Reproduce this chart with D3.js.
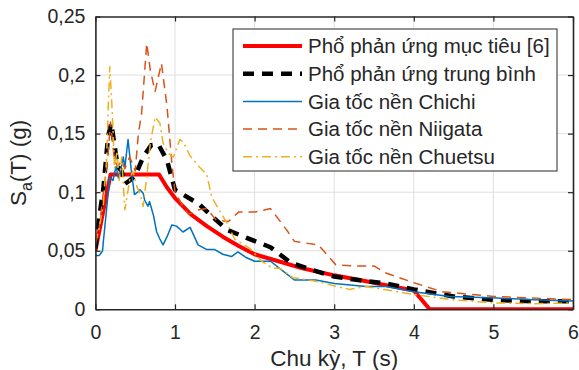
<!DOCTYPE html>
<html lang="vi">
    <head>
        <meta charset="utf-8">
        <title>Pho phan ung</title>
        <script type="text/javascript" src="https://d3js.org/d3.v7.min.js"></script>
        <style type="text/css">
          body { margin: 0; background: #fff; }
          text { font-family: "Liberation Sans", Arial, sans-serif; fill: #262626; }
        </style>
    </head>
    <body>
        <script type="text/javascript">
        var w = 579;
        var h = 370;
        var margin = {top: 16.5, right: 6, bottom: 60.7, left: 95.4};

        // tick values / labels
        var xTicks = [0, 1, 2, 3, 4, 5, 6];
        var yTicks = [0, 0.05, 0.1, 0.15, 0.2, 0.25];
        var yTickLabels = ["0", "0,05", "0,1", "0,15", "0,2", "0,25"];

        // [T (s), Sa (g)]
        var targetData = [[0, 0.05], [0.19, 0.115], [0.8, 0.115], [0.9, 0.104], [1.0, 0.095], [1.2, 0.081],
            [1.4, 0.071], [1.6, 0.062], [1.8, 0.054], [2.0, 0.047], [2.3, 0.041], [2.6, 0.035], [3.0, 0.029],
            [3.4, 0.024], [3.7, 0.02], [4.0, 0.016], [4.2, 0], [6.0, 0]];

        var meanData = [[0, 0.052], [0.03, 0.07], [0.1, 0.103], [0.16, 0.148], [0.2, 0.159], [0.24, 0.14],
            [0.28, 0.122], [0.33, 0.118], [0.37, 0.107], [0.43, 0.11], [0.5, 0.114], [0.6, 0.13], [0.7, 0.14],
            [0.79, 0.141], [0.9, 0.127], [1.0, 0.102], [1.1, 0.098], [1.2, 0.094], [1.3, 0.09], [1.44, 0.081],
            [1.65, 0.068], [1.9, 0.061], [2.2, 0.053], [2.45, 0.04], [2.7, 0.034], [3.0, 0.028], [3.3, 0.025],
            [3.65, 0.022], [4.0, 0.017], [4.5, 0.011], [5.0, 0.008], [5.5, 0.0068], [6.0, 0.0068]];

        var chichiData = [[0, 0.046], [0.05, 0.046], [0.09, 0.05], [0.1, 0.058], [0.14, 0.085], [0.18, 0.113],
            [0.22, 0.11], [0.26, 0.122], [0.29, 0.112], [0.31, 0.116], [0.35, 0.13], [0.37, 0.121], [0.41, 0.145],
            [0.45, 0.119], [0.49, 0.098], [0.53, 0.1], [0.56, 0.102], [0.6, 0.099], [0.62, 0.093], [0.66, 0.088],
            [0.68, 0.092], [0.73, 0.08], [0.77, 0.066], [0.81, 0.06], [0.85, 0.055], [0.9, 0.062], [0.96, 0.072],
            [1.02, 0.071], [1.1, 0.066], [1.19, 0.07], [1.29, 0.055], [1.4, 0.051], [1.5, 0.051], [1.6, 0.047],
            [1.71, 0.045], [1.79, 0.049], [1.9, 0.044], [2.0, 0.041], [2.2, 0.041], [2.35, 0.033], [2.5, 0.025],
            [2.77, 0.025], [3.0, 0.022], [3.4, 0.0195], [3.65, 0.0195], [4.0, 0.015], [4.45, 0.011],
            [5.05, 0.0096], [5.5, 0.0082], [6.0, 0.007]];

        var niigataData = [[0, 0.055], [0.05, 0.07], [0.1, 0.1], [0.14, 0.12], [0.16, 0.133], [0.19, 0.16],
            [0.22, 0.14], [0.24, 0.127], [0.28, 0.122], [0.33, 0.127], [0.37, 0.12], [0.43, 0.13], [0.47, 0.124],
            [0.5, 0.118], [0.54, 0.15], [0.58, 0.167], [0.645, 0.227], [0.69, 0.204], [0.75, 0.186], [0.83, 0.21],
            [0.9, 0.173], [0.96, 0.125], [1.0, 0.1], [1.1, 0.088], [1.17, 0.081], [1.3, 0.085], [1.4, 0.086],
            [1.52, 0.076], [1.67, 0.075], [1.8, 0.083], [2.0, 0.083], [2.2, 0.086], [2.4, 0.068], [2.5, 0.058],
            [2.8, 0.055], [3.02, 0.038], [3.27, 0.037], [3.5, 0.037], [3.65, 0.031], [4.03, 0.022], [4.36, 0.015],
            [5.0, 0.011], [5.5, 0.0096], [6.0, 0.0082]];

        var chuetsuData = [[0, 0.057], [0.05, 0.07], [0.1, 0.09], [0.14, 0.127], [0.16, 0.17], [0.18, 0.207],
            [0.2, 0.184], [0.22, 0.156], [0.24, 0.12], [0.27, 0.135], [0.3, 0.11], [0.33, 0.13], [0.37, 0.085],
            [0.43, 0.11], [0.47, 0.118], [0.52, 0.105], [0.56, 0.099], [0.6, 0.088], [0.64, 0.11], [0.69, 0.142],
            [0.75, 0.164], [0.81, 0.159], [0.85, 0.142], [0.92, 0.133], [0.98, 0.13], [1.06, 0.145], [1.1, 0.143],
            [1.19, 0.131], [1.3, 0.122], [1.4, 0.115], [1.46, 0.096], [1.52, 0.089], [1.65, 0.074], [1.75, 0.06],
            [1.94, 0.052], [2.09, 0.041], [2.23, 0.035], [2.32, 0.035], [2.48, 0.027], [2.77, 0.024], [3.0, 0.02],
            [3.19, 0.017], [3.4, 0.0195], [3.65, 0.0167], [4.03, 0.0124], [4.48, 0.0082], [5.0, 0.0055],
            [5.5, 0.0048], [6.0, 0.0054]];

        var seriesNames = ["Phổ phản ứng mục tiêu [6]", "Phổ phản ứng trung bình", "Gia tốc nền Chichi",
            "Gia tốc nền Niigata", "Gia tốc nền Chuetsu"];

        var series = [
          {data: targetData,  color: "#FF0000", width: 4,   dash: null},
          {data: meanData,    color: "#000000", width: 4.5, dash: "11,8"},
          {data: chichiData,  color: "#0072BD", width: 1.5, dash: null},
          {data: niigataData, color: "#D95319", width: 1.5, dash: "9,6"},
          {data: chuetsuData, color: "#EDB120", width: 1.5, dash: "9,4,2,4"}
        ];

        var pw = w - margin.left - margin.right;
        var ph = h - margin.top - margin.bottom;

        var svg = d3.select("body").append("svg")
                    .attr("width", w)
                    .attr("height", h);

        var g = svg.append("g")
                   .attr("transform", "translate(" + margin.left + "," + margin.top + ")");

        var x = d3.scaleLinear().domain([0, 6]).range([0, pw]);
        var y = d3.scaleLinear().domain([0, 0.25]).range([ph, 0]);

        g.append("clipPath").attr("id", "clip")
          .append("rect").attr("width", pw).attr("height", ph);

        // grid
        g.selectAll(".gx")
          .data(xTicks.slice(1, -1))
          .enter().append("line")
            .attr("x1", function(d){ return x(d); })
            .attr("x2", function(d){ return x(d); })
            .attr("y1", 0).attr("y2", ph)
            .attr("stroke", "#dfdfdf").attr("stroke-width", 1);

        g.selectAll(".gy")
          .data(yTicks.slice(1, -1))
          .enter().append("line")
            .attr("y1", function(d){ return y(d); })
            .attr("y2", function(d){ return y(d); })
            .attr("x1", 0).attr("x2", pw)
            .attr("stroke", "#dfdfdf").attr("stroke-width", 1);

        var line = d3.line()
            .x(function(d) { return x(d[0]); })
            .y(function(d) { return y(d[1]); });

        g.append("g").attr("clip-path", "url(#clip)")
          .selectAll("path")
          .data(series)
          .enter().append("path")
            .attr("fill", "none")
            .attr("stroke", function(d){ return d.color; })
            .attr("stroke-width", function(d){ return d.width; })
            .attr("stroke-dasharray", function(d){ return d.dash; })
            .attr("stroke-linejoin", "round")
            .attr("d", function(d){ return line(d.data); });

        // axes, ticks pointing inward
        var styleAxis = function(sel){
            sel.select(".domain").attr("stroke", "#262626").attr("stroke-width", 1.6);
            sel.selectAll(".tick line").attr("stroke", "#262626").attr("stroke-width", 1.2);
            sel.selectAll(".tick text")
               .attr("fill", "#262626")
               .style("font-family", "'Liberation Sans', Arial, sans-serif")
               .style("font-size", "19.5px");
        };

        g.append("g")
            .attr("transform", "translate(0," + ph + ")")
            .call(d3.axisBottom(x).tickValues(xTicks).tickSize(-5).tickSizeOuter(0).tickPadding(16)
                    .tickFormat(d3.format("d")))
            .call(styleAxis);

        g.append("g")
            .call(d3.axisLeft(y).tickValues(yTicks).tickSize(-5).tickSizeOuter(0).tickPadding(10)
                    .tickFormat(function(d, i){ return yTickLabels[i]; }))
            .call(styleAxis);

        g.append("g")
            .call(d3.axisTop(x).tickValues(xTicks).tickSize(-5).tickSizeOuter(0).tickFormat(""))
            .call(styleAxis);

        g.append("g")
            .attr("transform", "translate(" + pw + ",0)")
            .call(d3.axisRight(y).tickValues(yTicks).tickSize(-5).tickSizeOuter(0).tickFormat(""))
            .call(styleAxis);

        // axis labels
        svg.append("text")
            .attr("x", margin.left + pw / 2)
            .attr("y", 366)
            .attr("text-anchor", "middle")
            .style("font-size", "22.5px")
            .text("Chu kỳ, T (s)");

        var yLab = svg.append("text")
            .attr("transform", "translate(26," + (margin.top + ph / 2) + ") rotate(-90)")
            .attr("text-anchor", "middle")
            .style("font-size", "22.5px");
        yLab.append("tspan").text("S");
        yLab.append("tspan").attr("dy", 6).style("font-size", "16px").text("a");
        yLab.append("tspan").attr("dy", -6).text("(T) (g)");

        // legend
        var lg = svg.append("g").attr("transform", "translate(233,29)");
        lg.append("rect")
            .attr("width", 324).attr("height", 142)
            .attr("fill", "#fff")
            .attr("stroke", "#262626").attr("stroke-width", 1);

        var rowH = 27.7;
        var rows = lg.selectAll(".row")
            .data(series)
            .enter().append("g")
              .attr("transform", function(d, i){ return "translate(0," + (17 + i * rowH) + ")"; });

        rows.append("line")
            .attr("x1", 10).attr("x2", 69)
            .attr("stroke", function(d){ return d.color; })
            .attr("stroke-width", function(d){ return d.width; })
            .attr("stroke-dasharray", function(d){ return d.dash; });

        rows.append("text")
            .attr("x", 75)
            .attr("dy", "0.35em")
            .style("font-size", "20.5px")
            .text(function(d, i){ return seriesNames[i]; });
        </script>
    </body>
</html>
